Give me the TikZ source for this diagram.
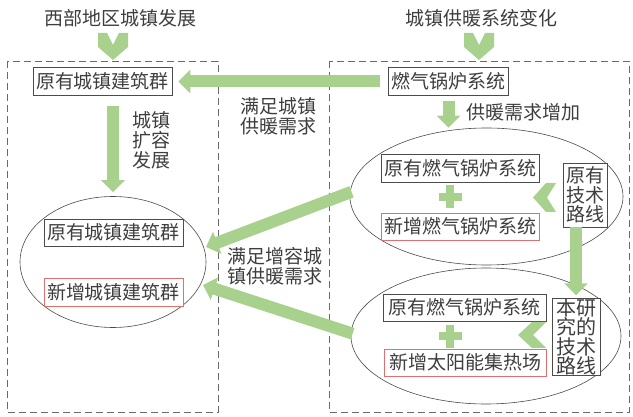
\documentclass[tikz,border=0pt]{standalone}
\usepackage{fontspec}
\setmainfont{Noto Sans CJK SC}
\usetikzlibrary{arrows.meta,shapes.geometric}
\definecolor{gr}{RGB}{169,209,142}
\definecolor{rd}{RGB}{222,112,112}
\definecolor{tx}{RGB}{62,62,62}
\definecolor{ln}{RGB}{75,75,75}
\definecolor{dg}{RGB}{105,105,105}
\tikzset{
  chevd/.pic={\fill[gr] (-15,-13.5) -- (-6,-13.5) -- (0,-1.5) -- (6,-13.5) -- (15,-13.5) -- (15,0.5) -- (0,13.5) -- (-15,0.5) -- cycle;},
  plussign/.pic={\fill[gr] (-4,-11.5) rectangle (4,11.5); \fill[gr] (-11.5,-4) rectangle (11.5,4);}
}
\begin{document}
\begin{tikzpicture}[x=1pt,y=-1pt,
  every node/.style={text=tx, font=\fontsize{19}{20}\selectfont},
  bx/.style={draw=ln, line width=0.6pt, fill=white, inner xsep=3pt, inner ysep=4pt, text height=16.5pt, text depth=3pt},
  rbx/.style={bx, draw=rd},
  vbx/.style={draw=ln, line width=0.6pt, fill=white, align=center, inner sep=0pt},
  lbl/.style={align=center, inner sep=0pt},
  ell/.style={draw=ln, line width=0.6pt, ellipse, inner sep=0pt},
  fat/.style={draw=gr, line width=12pt, -{Triangle[width=23pt,length=12pt]}},
  dbox/.style={draw=dg, line width=0.8pt, dash pattern=on 7pt off 4pt}
]
\useasboundingbox (0,0) rectangle (633,417);

% dashed frames
\draw[dbox] (7,61) rectangle (218,412);
\draw[dbox] (329,61) rectangle (629,412);

% titles
\node[lbl] (t1) at (121,18) {西部地区城镇发展};
\node[lbl] (t2) at (481,18) {城镇供暖系统变化};
\pic at (113,46.5) {chevd};
\pic at (479,46.5) {chevd};

% ellipses
\node[ell, minimum width=186pt, minimum height=131pt] (e1) at (113,262) {};
\node[ell, minimum width=273pt, minimum height=137pt] (e2) at (486.5,196.5) {};
\node[ell, minimum width=270pt, minimum height=136pt] (e3) at (486,336) {};

% left side boxes
\node[bx] (a1) at (102.5,81.5) {原有城镇建筑群};
\node[bx] (a2) at (113.5,233) {原有城镇建筑群};
\node[rbx] (a3) at (113.5,292.5) {新增城镇建筑群};

% right side boxes
\node[bx] (b1) at (448.5,81.5) {燃气锅炉系统};
\node[bx] (b2) at (460.5,168.5) {原有燃气锅炉系统};
\node[rbx] (b3) at (460.5,227) {新增燃气锅炉系统};
\node[vbx, minimum width=44pt, minimum height=64pt, font=\fontsize{19}{19.5}\selectfont] (b4) at (585,195) {原有\\技术\\路线};
\node[bx, minimum width=163pt] (c2) at (464.5,308) {原有燃气锅炉系统};
\node[rbx, minimum width=162pt] (c3) at (465,363) {新增太阳能集热场};
\node[vbx, minimum width=48pt, minimum height=74pt, font=\fontsize{20}{16.5}\selectfont] (c4) at (576,337) {本研\\究的\\技术\\路线};

\pic at (450,197) {plussign};
\pic at (450,336.5) {plussign};

% chevrons pointing left
\fill[gr] (533,197.5) -- (546,183) -- (556,183) -- (547,197.5) -- (556,212) -- (546,212) -- cycle;
\fill[gr] (518,335) -- (532,322) -- (546,322) -- (533,335) -- (546,348) -- (532,348) -- cycle;

% labels
\node[lbl] (l1) at (278.5,116) {满足城镇\\供暖需求};
\node[lbl] (l2) at (151.5,140) {城镇\\扩容\\发展};
\node[lbl] (l3) at (523,112.5) {供暖需求增加};
\node[lbl] (l4) at (275,266) {满足增容城\\镇供暖需求};

% thick arrows
\coordinate (p1) at (206,247);
\coordinate (p2) at (203,285);
\draw[fat, shorten <=8pt, shorten >=6pt] (b1.west) -- (a1.east);
\draw[fat, shorten <=10pt, shorten >=4pt] (a1.south -| e1.north) -- (e1.north);
\draw[fat, shorten <=5pt] (b1.south) -- (b1.south |- e2.north);
\draw[fat, shorten >=3pt] (c4.north |- b4.south) -- (c4.north);
\draw[fat, shorten <=-2pt] ([yshift=4pt]e2.west) -- (p1);
\draw[fat, shorten <=-2pt] ([yshift=3pt]e3.west) -- (p2);
\end{tikzpicture}
\end{document}
